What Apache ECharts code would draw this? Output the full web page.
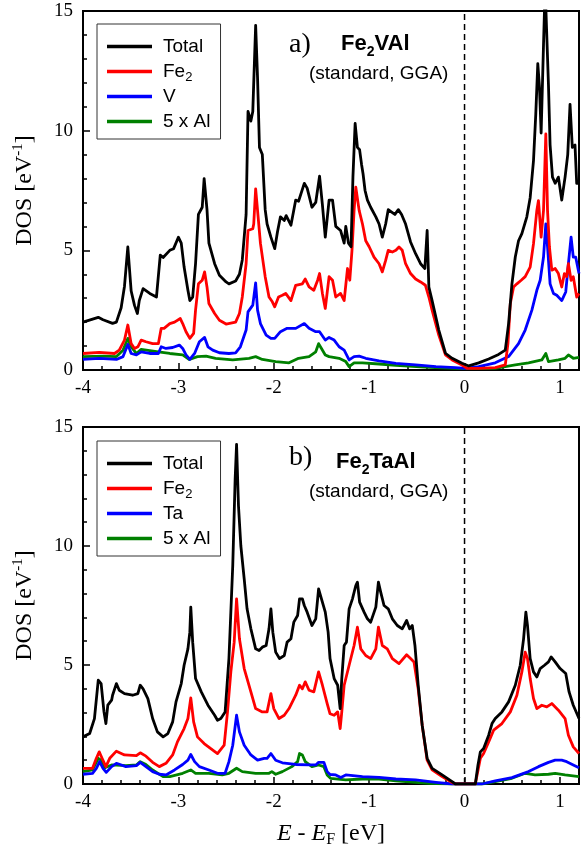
<!DOCTYPE html>
<html><head><meta charset="utf-8">
<script src="https://cdn.jsdelivr.net/npm/echarts@6/dist/echarts.min.js"></script>
<style>html,body{margin:0;padding:0;background:#fff}#c{width:582px;height:849px}</style>
</head><body><div id="c"></div><script>
// Density of states of Fe2VAl (panel a) and Fe2TaAl (panel b), standard GGA.
// Each series is a list of [E - E_F (eV), DOS (1/eV)] points.

const xTicks = [-4, -3, -2, -1, 0, 1];
const yTicks = [0, 5, 10, 15];
const fermiLine = [[0, 0], [0, 15]];

// ---- panel a: Fe2VAl ----
const vTotal = [[-4,2.0],[-3.84,2.2],[-3.79,2.1],[-3.69,1.95],[-3.65,2.0],[-3.6,2.6],[-3.565,3.5],[-3.53,5.14],[-3.495,3.3],[-3.46,2.7],[-3.43,2.36],[-3.41,2.9],[-3.37,3.4],[-3.30,3.2],[-3.23,3.05],[-3.21,3.0],[-3.19,4.8],[-3.16,4.7],[-3.14,4.65],[-3.09,5.0],[-3.05,5.07],[-3.0,5.55],[-2.97,5.3],[-2.94,4.3],[-2.90,3.33],[-2.88,2.9],[-2.85,3.05],[-2.82,4.44],[-2.79,6.5],[-2.75,6.8],[-2.73,8.0],[-2.70,6.7],[-2.68,5.3],[-2.62,4.44],[-2.57,3.96],[-2.50,3.68],[-2.47,3.6],[-2.40,3.72],[-2.36,4.0],[-2.33,4.6],[-2.29,6.5],[-2.27,10.8],[-2.24,10.4],[-2.22,10.8],[-2.19,14.4],[-2.17,12.2],[-2.15,9.3],[-2.12,9.0],[-2.09,6.7],[-2.07,6.1],[-2.03,5.55],[-2.01,5.55],[-1.99,5.07],[-1.96,5.8],[-1.93,6.4],[-1.89,6.25],[-1.87,6.45],[-1.82,6.05],[-1.77,7.1],[-1.74,7.05],[-1.68,7.8],[-1.65,7.6],[-1.60,6.8],[-1.56,7.0],[-1.52,8.1],[-1.49,6.9],[-1.46,5.55],[-1.42,7.1],[-1.384,7.1],[-1.35,6.0],[-1.30,5.83],[-1.262,5.3],[-1.245,6.0],[-1.217,5.3],[-1.19,5.15],[-1.17,8.06],[-1.147,10.3],[-1.123,9.3],[-1.10,9.2],[-1.08,8.6],[-1.064,8.2],[-1.043,7.5],[-1.018,7.1],[-0.984,6.8],[-0.93,6.4],[-0.896,6.1],[-0.862,5.55],[-0.827,6.1],[-0.80,6.7],[-0.764,6.6],[-0.73,6.5],[-0.694,6.7],[-0.66,6.5],[-0.618,6.1],[-0.566,5.35],[-0.513,4.86],[-0.461,4.44],[-0.416,4.24],[-0.392,5.83],[-0.374,3.47],[-0.34,2.9],[-0.27,1.67],[-0.20,0.7],[-0.13,0.49],[-0.026,0.28],[0.044,0.17],[0.148,0.3],[0.253,0.46],[0.357,0.65],[0.427,0.83],[0.462,1.94],[0.497,3.6],[0.532,4.72],[0.566,5.4],[0.601,5.7],[0.653,6.4],[0.688,7.2],[0.723,8.75],[0.747,10.7],[0.768,12.8],[0.786,11.8],[0.803,9.9],[0.828,13.6],[0.845,16.0],[0.862,16.0],[0.88,11.9],[0.897,9.4],[0.922,8.06],[0.95,7.8],[0.984,8.06],[1.019,7.1],[1.054,8.06],[1.082,9.0],[1.106,11.1],[1.13,9.3],[1.158,9.4],[1.176,7.8],[1.2,7.8]];

const vFe2 = [[-4,0.69],[-3.83,0.74],[-3.67,0.69],[-3.62,0.83],[-3.565,1.25],[-3.53,1.88],[-3.495,1.1],[-3.46,0.9],[-3.425,0.97],[-3.39,1.25],[-3.34,1.18],[-3.27,1.1],[-3.21,1.1],[-3.18,1.74],[-3.15,1.74],[-3.09,1.94],[-3.04,2.0],[-2.98,2.15],[-2.955,1.94],[-2.92,1.6],[-2.88,1.32],[-2.84,1.53],[-2.82,2.5],[-2.79,3.6],[-2.75,3.75],[-2.725,4.1],[-2.70,3.47],[-2.68,2.78],[-2.62,2.36],[-2.57,2.08],[-2.50,1.92],[-2.40,2.0],[-2.36,2.36],[-2.33,3.05],[-2.29,4.44],[-2.27,5.83],[-2.22,5.9],[-2.21,6.1],[-2.19,7.57],[-2.17,6.67],[-2.14,5.3],[-2.09,3.9],[-2.05,3.05],[-2.015,2.85],[-1.99,2.64],[-1.95,3.05],[-1.91,3.12],[-1.875,3.2],[-1.82,2.9],[-1.77,3.54],[-1.70,3.6],[-1.67,3.8],[-1.63,3.47],[-1.58,3.33],[-1.54,3.75],[-1.52,4.03],[-1.49,3.2],[-1.46,2.57],[-1.42,3.9],[-1.384,3.75],[-1.35,3.05],[-1.30,3.2],[-1.262,2.9],[-1.227,4.24],[-1.203,3.75],[-1.18,5.0],[-1.158,6.67],[-1.14,7.64],[-1.105,6.67],[-1.07,6.1],[-1.036,5.4],[-1.0,5.15],[-0.949,4.72],[-0.896,4.44],[-0.862,4.1],[-0.827,4.58],[-0.80,5.0],[-0.757,4.93],[-0.72,5.0],[-0.687,5.14],[-0.653,5.0],[-0.618,4.44],[-0.566,4.03],[-0.513,3.8],[-0.461,3.68],[-0.41,3.54],[-0.374,3.05],[-0.34,2.5],[-0.27,1.46],[-0.20,0.63],[-0.13,0.42],[-0.026,0.21],[0.026,0.07],[0.148,0.07],[0.322,0.1],[0.427,0.21],[0.455,1.1],[0.48,2.78],[0.514,3.47],[0.549,3.6],[0.594,3.75],[0.636,3.9],[0.688,4.3],[0.723,5.28],[0.758,6.67],[0.775,7.08],[0.803,5.55],[0.828,6.67],[0.852,9.86],[0.87,6.67],[0.89,5.14],[0.915,4.17],[0.95,4.24],[0.984,4.03],[1.019,3.47],[1.047,4.03],[1.07,3.9],[1.089,4.44],[1.117,3.75],[1.14,3.9],[1.176,3.05],[1.2,3.2]];

const vV = [[-4,0.44],[-3.83,0.49],[-3.65,0.44],[-3.58,0.56],[-3.53,1.07],[-3.495,0.69],[-3.44,0.63],[-3.39,0.76],[-3.30,0.69],[-3.21,0.69],[-3.18,0.97],[-3.13,0.9],[-3.06,0.94],[-2.99,1.04],[-2.955,0.9],[-2.92,0.63],[-2.88,0.44],[-2.83,0.69],[-2.78,1.18],[-2.725,1.36],[-2.69,0.97],[-2.64,0.83],[-2.57,0.72],[-2.47,0.69],[-2.40,0.72],[-2.35,0.97],[-2.29,1.67],[-2.27,2.43],[-2.22,2.71],[-2.19,3.64],[-2.17,2.5],[-2.14,1.94],[-2.08,1.46],[-2.03,1.32],[-1.99,1.32],[-1.93,1.6],[-1.86,1.74],[-1.77,1.74],[-1.68,1.94],[-1.63,1.74],[-1.56,1.6],[-1.52,1.6],[-1.46,1.25],[-1.42,1.36],[-1.367,1.25],[-1.315,0.97],[-1.262,0.83],[-1.21,0.42],[-1.158,0.56],[-1.105,0.58],[-1.036,0.49],[-0.896,0.38],[-0.72,0.28],[-0.513,0.21],[-0.30,0.14],[-0.096,0.1],[0.009,0.07],[0.148,0.14],[0.322,0.3],[0.462,0.56],[0.566,1.1],[0.636,1.67],[0.706,2.5],[0.758,3.33],[0.793,3.75],[0.828,4.72],[0.852,6.1],[0.873,5.0],[0.897,3.6],[0.932,3.2],[0.967,3.12],[1.019,2.9],[1.061,3.26],[1.089,4.44],[1.117,5.55],[1.14,4.72],[1.165,4.72],[1.2,4.03]];

const vAl = [[-4,0.56],[-3.79,0.58],[-3.65,0.56],[-3.58,0.83],[-3.53,1.32],[-3.495,0.97],[-3.44,0.69],[-3.39,0.86],[-3.30,0.81],[-3.21,0.76],[-3.09,0.69],[-2.955,0.63],[-2.885,0.44],[-2.80,0.56],[-2.71,0.58],[-2.61,0.49],[-2.43,0.42],[-2.26,0.49],[-2.19,0.56],[-2.12,0.44],[-1.98,0.35],[-1.84,0.3],[-1.74,0.49],[-1.63,0.56],[-1.56,0.76],[-1.53,1.1],[-1.50,0.9],[-1.46,0.63],[-1.42,0.56],[-1.315,0.49],[-1.245,0.35],[-1.21,0.14],[-1.158,0.3],[-1.07,0.3],[-0.896,0.25],[-0.72,0.19],[-0.374,0.11],[-0.026,0.06],[0.322,0.07],[0.532,0.21],[0.671,0.3],[0.81,0.42],[0.852,0.69],[0.88,0.35],[0.984,0.42],[1.054,0.49],[1.089,0.63],[1.14,0.49],[1.2,0.53]];

// ---- panel b: Fe2TaAl ----
const tTotal = [[-4,1.98],[-3.93,2.12],[-3.88,2.75],[-3.84,4.36],[-3.81,4.22],[-3.78,3.03],[-3.76,2.54],[-3.74,3.31],[-3.70,3.52],[-3.69,3.73],[-3.65,4.22],[-3.62,3.94],[-3.565,3.8],[-3.48,3.73],[-3.425,3.8],[-3.40,4.15],[-3.37,4.0],[-3.32,3.59],[-3.27,2.75],[-3.22,2.19],[-3.16,1.98],[-3.11,2.12],[-3.06,2.61],[-3.025,3.45],[-2.97,4.22],[-2.94,4.99],[-2.90,5.68],[-2.88,6.38],[-2.87,7.43],[-2.85,5.96],[-2.82,4.43],[-2.76,3.87],[-2.69,3.31],[-2.62,2.89],[-2.59,2.68],[-2.555,2.75],[-2.51,3.03],[-2.47,5.27],[-2.43,9.18],[-2.405,12.8],[-2.39,14.27],[-2.37,11.69],[-2.345,10.0],[-2.31,8.62],[-2.28,7.36],[-2.24,6.52],[-2.19,5.68],[-2.154,5.61],[-2.12,5.75],[-2.08,5.82],[-2.05,6.52],[-2.03,7.36],[-2.01,6.38],[-1.98,5.54],[-1.94,5.27],[-1.89,5.4],[-1.86,5.96],[-1.82,6.1],[-1.79,6.8],[-1.75,7.08],[-1.73,7.78],[-1.70,7.78],[-1.68,7.5],[-1.65,7.22],[-1.60,6.66],[-1.56,6.94],[-1.53,8.2],[-1.50,7.78],[-1.46,7.22],[-1.43,6.38],[-1.41,5.27],[-1.367,4.43],[-1.33,4.15],[-1.304,3.17],[-1.287,4.43],[-1.262,5.82],[-1.238,5.96],[-1.21,7.36],[-1.175,7.78],[-1.14,8.34],[-1.123,8.48],[-1.10,7.64],[-1.053,7.22],[-1.018,6.94],[-0.984,6.8],[-0.93,7.43],[-0.903,8.48],[-0.879,8.06],[-0.844,7.5],[-0.80,7.36],[-0.757,6.94],[-0.705,6.66],[-0.653,6.52],[-0.607,6.87],[-0.576,6.52],[-0.548,6.66],[-0.52,5.82],[-0.486,4.15],[-0.444,2.47],[-0.392,1.08],[-0.34,0.66],[-0.235,0.38],[-0.13,0.1],[-0.096,0],[0.113,0],[0.141,0.8],[0.166,1.35],[0.2,1.49],[0.253,2.05],[0.288,2.54],[0.322,2.75],[0.392,3.03],[0.462,3.45],[0.532,4.15],[0.584,4.99],[0.619,6.1],[0.643,7.22],[0.66,6.66],[0.688,5.27],[0.723,4.71],[0.758,4.5],[0.793,4.85],[0.838,4.99],[0.88,5.13],[0.908,5.34],[0.95,5.13],[1.002,4.85],[1.061,4.64],[1.096,3.87],[1.14,3.31],[1.2,2.75]];

const tFe2 = [[-4,0.66],[-3.9,0.66],[-3.86,1.08],[-3.83,1.35],[-3.80,1.08],[-3.76,0.73],[-3.72,1.08],[-3.65,1.38],[-3.565,1.22],[-3.44,1.19],[-3.40,1.31],[-3.34,1.17],[-3.27,0.91],[-3.20,0.73],[-3.13,0.87],[-3.06,1.22],[-3.01,1.77],[-2.94,2.33],[-2.90,2.75],[-2.87,3.62],[-2.84,2.61],[-2.80,1.98],[-2.73,1.7],[-2.66,1.49],[-2.59,1.28],[-2.52,1.63],[-2.485,3.03],[-2.45,4.71],[-2.415,5.96],[-2.39,7.78],[-2.36,6.1],[-2.31,4.85],[-2.24,3.87],[-2.19,3.17],[-2.12,3.03],[-2.07,3.03],[-2.03,3.8],[-2.0,3.17],[-1.945,2.75],[-1.89,2.89],[-1.84,3.17],[-1.77,3.73],[-1.73,4.15],[-1.70,4.0],[-1.67,4.29],[-1.63,3.94],[-1.58,3.87],[-1.53,4.71],[-1.49,4.15],[-1.44,3.38],[-1.41,2.95],[-1.367,2.89],[-1.33,3.03],[-1.304,2.33],[-1.287,3.03],[-1.262,4.15],[-1.21,4.99],[-1.158,5.82],[-1.123,6.59],[-1.088,5.68],[-1.036,5.4],[-0.984,5.27],[-0.93,5.68],[-0.903,6.59],[-0.862,5.82],[-0.81,5.68],[-0.757,5.27],[-0.687,5.06],[-0.607,5.43],[-0.566,5.27],[-0.53,5.13],[-0.486,4.0],[-0.444,2.47],[-0.392,1.0],[-0.34,0.59],[-0.235,0.31],[-0.148,0.1],[-0.096,0],[0.113,0],[0.166,1.08],[0.2,1.28],[0.253,1.77],[0.305,2.26],[0.392,2.54],[0.48,3.03],[0.549,3.73],[0.601,4.71],[0.636,5.54],[0.66,5.27],[0.688,4.43],[0.723,3.59],[0.758,3.17],[0.81,3.31],[0.862,3.24],[0.915,3.38],[0.984,3.1],[1.054,2.75],[1.089,2.05],[1.14,1.56],[1.2,1.28]];

const tTa = [[-4,0.41],[-3.9,0.45],[-3.86,0.66],[-3.826,0.94],[-3.79,0.66],[-3.756,0.49],[-3.70,0.73],[-3.65,0.87],[-3.55,0.73],[-3.44,0.77],[-3.40,0.91],[-3.34,0.73],[-3.27,0.52],[-3.20,0.41],[-3.13,0.38],[-3.04,0.59],[-2.955,0.82],[-2.90,1.0],[-2.87,1.24],[-2.83,0.94],[-2.78,0.73],[-2.68,0.59],[-2.59,0.45],[-2.51,0.45],[-2.47,0.94],[-2.43,1.63],[-2.39,2.89],[-2.36,2.19],[-2.31,1.63],[-2.24,1.22],[-2.17,1.0],[-2.10,1.08],[-2.07,1.08],[-2.03,1.28],[-1.98,1.0],[-1.91,0.89],[-1.77,0.82],[-1.63,0.8],[-1.56,0.8],[-1.53,0.91],[-1.475,0.91],[-1.44,0.52],[-1.41,0.4],[-1.35,0.38],[-1.297,0.27],[-1.245,0.38],[-1.07,0.31],[-0.896,0.28],[-0.72,0.21],[-0.513,0.17],[-0.30,0.07],[-0.13,0],[0.183,0],[0.322,0.13],[0.497,0.27],[0.671,0.52],[0.775,0.73],[0.88,0.91],[0.95,1.0],[1.019,1.0],[1.071,0.94],[1.14,0.8],[1.2,0.68]];

const tAl = [[-4,0.52],[-3.9,0.59],[-3.84,1.08],[-3.81,1.0],[-3.77,0.68],[-3.70,0.8],[-3.55,0.77],[-3.44,0.8],[-3.40,0.94],[-3.34,0.82],[-3.27,0.59],[-3.16,0.31],[-3.09,0.31],[-2.955,0.45],[-2.87,0.59],[-2.82,0.45],[-2.68,0.45],[-2.54,0.38],[-2.47,0.45],[-2.39,0.66],[-2.33,0.52],[-2.19,0.45],[-2.05,0.45],[-2.02,0.52],[-1.98,0.41],[-1.91,0.52],[-1.81,0.73],[-1.75,0.94],[-1.73,1.28],[-1.70,1.22],[-1.67,0.94],[-1.60,0.73],[-1.53,0.8],[-1.475,0.73],[-1.44,0.38],[-1.405,0.24],[-1.245,0.17],[-1.07,0.21],[-0.896,0.21],[-0.72,0.13],[-0.374,0.03],[-0.13,0],[0.183,0],[0.322,0.1],[0.497,0.24],[0.636,0.45],[0.74,0.38],[0.88,0.41],[0.95,0.45],[1.054,0.38],[1.2,0.31]];

const serif = "'Liberation Serif', 'Times New Roman', serif";
const sans = "'Liberation Sans', Arial, sans-serif";
const colors = { 'Total': '#000000', 'Fe2': '#ff0000', 'V': '#0000ff', 'Ta': '#0000ff', '5 x Al': '#008000' };

function lineSeries(name, data, idx) {
  return {
    type: 'line', name: name, data: data,
    xAxisIndex: idx, yAxisIndex: idx,
    showSymbol: false, symbol: 'none', clip: true,
    lineStyle: { color: colors[name], width: 2.8, join: 'round' },
    itemStyle: { color: colors[name] },
    animation: false, silent: true
  };
}

// vertical dashed line at the Fermi level
function fermiSeries(idx) {
  return {
    type: 'line', data: fermiLine, xAxisIndex: idx, yAxisIndex: idx,
    showSymbol: false, symbol: 'none', silent: true, animation: false, z: 1,
    lineStyle: { color: '#000', width: 1.5, type: [6, 4] }
  };
}

function xAxis(idx, withName) {
  const a = {
    type: 'value', gridIndex: idx, min: -4, max: 1.2, interval: 1,
    axisLine: { show: true, onZero: false, lineStyle: { color: '#000', width: 2 } },
    axisTick: { show: true, inside: true, length: 7, lineStyle: { color: '#000', width: 1.5 } },
    minorTick: { show: true, splitNumber: 5, length: 4, lineStyle: { color: '#000', width: 1.5 } },
    splitLine: { show: false },
    axisLabel: {
      color: '#000', fontFamily: serif, fontSize: 19, margin: 9,
      formatter: v => (xTicks.indexOf(Math.round(v * 1000) / 1000) >= 0 ? String(v) : '')
    }
  };
  if (withName) {
    a.name = '{i|E}{n| - }{i|E}{sub|F}{n| [eV]}';
    a.nameLocation = 'middle';
    a.nameGap = 36;
    a.nameTextStyle = {
      color: '#000', fontFamily: serif, fontSize: 24,
      rich: {
        i: { fontFamily: serif, fontSize: 24, fontStyle: 'italic', lineHeight: 28 },
        n: { fontFamily: serif, fontSize: 24, lineHeight: 28 },
        sub: { fontFamily: serif, fontSize: 16, lineHeight: 16, verticalAlign: 'bottom' }
      }
    };
  }
  return a;
}

function yAxis(idx) {
  return {
    type: 'value', gridIndex: idx, min: 0, max: 15, interval: 5,
    axisLine: { show: true, onZero: false, lineStyle: { color: '#000', width: 2 } },
    axisTick: { show: true, inside: true, length: 7, lineStyle: { color: '#000', width: 1.5 } },
    minorTick: { show: true, splitNumber: 5, length: 4, lineStyle: { color: '#000', width: 1.5 } },
    splitLine: { show: false },
    axisLabel: {
      color: '#000', fontFamily: serif, fontSize: 19, margin: 10,
      formatter: v => (yTicks.indexOf(v) >= 0 ? String(v) : '')
    },
    name: '{n|DOS [eV}{sup|-1}{n|]}',
    nameLocation: 'middle', nameGap: 44,
    nameTextStyle: {
      color: '#000', fontFamily: serif, fontSize: 24,
      rich: {
        n: { fontFamily: serif, fontSize: 24, lineHeight: 28 },
        sup: { fontFamily: serif, fontSize: 15, lineHeight: 16, verticalAlign: 'top' }
      }
    }
  };
}

function legend(top, names) {
  return {
    show: true, orient: 'vertical', left: 97, top: top,
    data: names, icon: 'rect', itemWidth: 45, itemHeight: 3.5, itemGap: 0,
    padding: [10, 10, 5, 10],
    backgroundColor: '#fff', borderColor: '#333', borderWidth: 1, borderRadius: 0,
    selectedMode: false,
    formatter: name => (name === 'Fe2' ? '{n|Fe}{s|2}' : '{n|' + name + '}'),
    textStyle: {
      color: '#000', fontFamily: sans, fontSize: 19, lineHeight: 25, padding: [0, 0, 0, 6],
      rich: {
        n: { fontFamily: sans, fontSize: 19, lineHeight: 25, color: '#000' },
        s: { fontFamily: sans, fontSize: 13, lineHeight: 13, verticalAlign: 'bottom', color: '#000' }
      }
    }
  };
}

function label(x, y, text, rich) {
  return {
    type: 'text', left: x, top: y, silent: true,
    style: { text: text, rich: rich, fill: '#000' }
  };
}

const titleRich = {
  b: { fontFamily: sans, fontWeight: 'bold', fontSize: 22, lineHeight: 30 },
  bs: { fontFamily: sans, fontWeight: 'bold', fontSize: 14, lineHeight: 14, verticalAlign: 'bottom' }
};
const plainRich = { p: { fontFamily: sans, fontSize: 19, lineHeight: 22 } };
const letterRich = { l: { fontFamily: serif, fontSize: 28, lineHeight: 30 } };

const chart = echarts.init(document.getElementById('c'), null, { renderer: 'canvas' });
chart.setOption({
  backgroundColor: '#fff',
  animation: false,
  grid: [
    { left: 83, top: 11, width: 498, height: 359, show: true, borderColor: '#000', borderWidth: 2, containLabel: false },
    { left: 83, top: 427, width: 498, height: 358, show: true, borderColor: '#000', borderWidth: 2, containLabel: false }
  ],
  xAxis: [xAxis(0, false), xAxis(1, true)],
  yAxis: [yAxis(0), yAxis(1)],
  legend: [
    legend(24, ['Total', 'Fe2', 'V', '5 x Al']),
    legend(441, ['Total', 'Fe2', 'Ta', '5 x Al'])
  ],
  graphic: [
    label(289, 31, '{l|a)}', letterRich),
    label(341, 33, '{b|Fe}{bs|2}{b|VAl}', titleRich),
    label(309, 64, '{p|(standard, GGA)}', plainRich),
    label(289, 444, '{l|b)}', letterRich),
    label(336, 451, '{b|Fe}{bs|2}{b|TaAl}', titleRich),
    label(309, 482, '{p|(standard, GGA)}', plainRich)
  ],
  series: [
    fermiSeries(0),
    lineSeries('5 x Al', vAl, 0),
    lineSeries('V', vV, 0),
    lineSeries('Fe2', vFe2, 0),
    lineSeries('Total', vTotal, 0),
    fermiSeries(1),
    lineSeries('5 x Al', tAl, 1),
    lineSeries('Ta', tTa, 1),
    lineSeries('Fe2', tFe2, 1),
    lineSeries('Total', tTotal, 1)
  ]
});
</script></body></html>
